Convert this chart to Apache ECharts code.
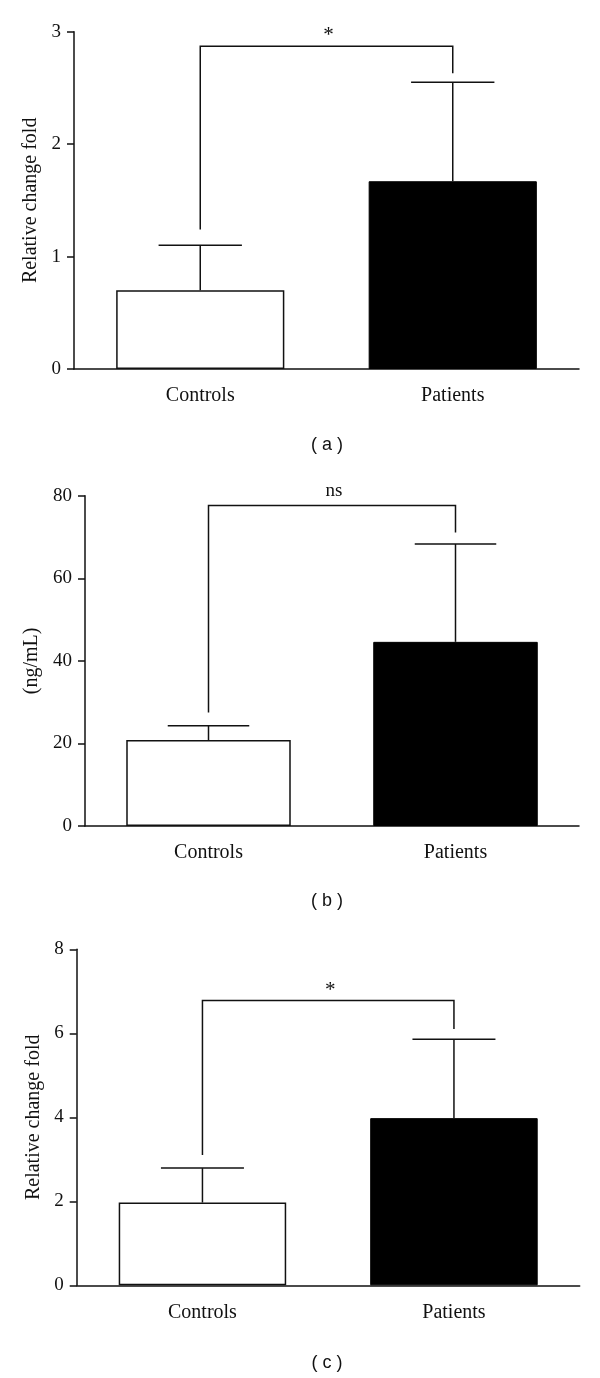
<!DOCTYPE html>
<html>
<head>
<meta charset="utf-8">
<script src="https://cdn.jsdelivr.net/npm/echarts@6/dist/echarts.min.js"></script>
<style>
  html, body { margin: 0; padding: 0; background: #fff; }
  #chart { width: 600px; height: 1378px; }
</style>
</head>
<body>
<div id="chart"></div>
<script>
const categories = ['Controls', 'Patients']

// panel (a)
const meanA = [0.7, 1.67]
const errTopA = [1.1, 2.55]
const bracketA = [1.24, 2.63, 2.87] // left foot, right foot, top
const ticksA = [0, 3, 1]            // min, max, interval

// panel (b)
const meanB = [20.8, 44.6]
const errTopB = [24.3, 68.3]
const bracketB = [27.5, 71.1, 77.6]
const ticksB = [0, 80, 20]

// panel (c)
const meanC = [1.97, 3.98]
const errTopC = [2.79, 5.86]
const bracketC = [3.1, 6.1, 6.78]
const ticksC = [0, 8, 2]

const panelTitles = ['Relative change fold', '(ng/mL)', 'Relative change fold']
const sigLabels = ['*', 'ns', '*']
const panelLetters = ['( a )', '( b )', '( c )']

const INK = '#111'
const SERIF = '"Liberation Serif", "DejaVu Serif", serif'

const layouts = [
  { grid: { left: 74, top: 31.7, width: 505, height: 337.3 }, nameGap: 27, letterY: 445 },
  { grid: { left: 85, top: 495.7, width: 494, height: 330.3 }, nameGap: 40, letterY: 901 },
  { grid: { left: 76.7, top: 949.3, width: 503, height: 336 }, nameGap: 29, letterY: 1363 }
]

const panels = [
  { mean: meanA, errTop: errTopA, bracket: bracketA, ticks: ticksA },
  { mean: meanB, errTop: errTopB, bracket: bracketB, ticks: ticksB },
  { mean: meanC, errTop: errTopC, bracket: bracketC, ticks: ticksC }
]

const renderErrorBar = (params, api) => {
  const x = api.value(0)
  const base = api.coord([x, api.value(1)])
  const top = api.coord([x, api.value(2)])
  const capHalf = api.size([1, 0])[0] * 0.165
  return {
    type: 'group',
    children: [
      { type: 'line', shape: { x1: base[0], y1: base[1], x2: top[0], y2: top[1] }, style: { stroke: INK, lineWidth: 1.5 } },
      { type: 'line', shape: { x1: top[0] - capHalf, y1: top[1], x2: top[0] + capHalf, y2: top[1] }, style: { stroke: INK, lineWidth: 1.5 } }
    ]
  }
}

const makeBracketRenderer = (label) => (params, api) => {
  const leftFoot = api.coord([0, api.value(0)])
  const rightFoot = api.coord([1, api.value(1)])
  const topY = api.coord([0, api.value(2)])[1]
  const isStar = label === '*'
  return {
    type: 'group',
    children: [
      {
        type: 'polyline',
        shape: { points: [[leftFoot[0], leftFoot[1]], [leftFoot[0], topY], [rightFoot[0], topY], [rightFoot[0], rightFoot[1]]] },
        style: { stroke: INK, lineWidth: 1.5, fill: null }
      },
      {
        type: 'text',
        x: (leftFoot[0] + rightFoot[0]) / 2 + 2,
        y: topY - (isStar ? 0 : 5),
        style: { text: label, fill: INK, font: (isStar ? '21px ' : '19px ') + SERIF, align: 'center', verticalAlign: 'bottom' }
      }
    ]
  }
}

const grid = []
const xAxis = []
const yAxis = []
const series = []
const graphic = []

panels.forEach((p, i) => {
  const lay = layouts[i]
  grid.push(lay.grid)
  xAxis.push({
    type: 'category',
    gridIndex: i,
    data: categories,
    axisLine: { lineStyle: { color: INK, width: 1.5 } },
    axisTick: { alignWithLabel: true, length: 8, lineStyle: { color: INK, width: 1.5 } },
    axisLabel: { color: INK, fontFamily: SERIF, fontSize: 20, margin: 17 }
  })
  yAxis.push({
    type: 'value',
    gridIndex: i,
    min: p.ticks[0],
    max: p.ticks[1],
    interval: p.ticks[2],
    name: panelTitles[i],
    nameLocation: 'middle',
    nameGap: lay.nameGap,
    nameTextStyle: { color: INK, fontFamily: SERIF, fontSize: 20 },
    axisLine: { show: true, lineStyle: { color: INK, width: 1.5 } },
    axisTick: { show: true, length: 7, lineStyle: { color: INK, width: 1.5 } },
    axisLabel: { color: INK, fontFamily: SERIF, fontSize: 19, margin: 13 },
    splitLine: { show: false }
  })
  series.push({
    type: 'bar',
    xAxisIndex: i,
    yAxisIndex: i,
    barWidth: '66.6%',
    silent: true,
    data: p.mean.map((v, k) => ({
      value: v,
      itemStyle: k === 0
        ? { color: '#fff', borderColor: INK, borderWidth: 1.5 }
        : { color: '#000', borderColor: '#000', borderWidth: 1 }
    }))
  })
  series.push({
    type: 'custom',
    xAxisIndex: i,
    yAxisIndex: i,
    silent: true,
    z: 3,
    renderItem: renderErrorBar,
    data: p.mean.map((v, k) => [k, v, p.errTop[k]])
  })
  series.push({
    type: 'custom',
    xAxisIndex: i,
    yAxisIndex: i,
    silent: true,
    z: 3,
    renderItem: makeBracketRenderer(sigLabels[i]),
    data: [p.bracket]
  })
  graphic.push({
    type: 'text',
    x: 327,
    y: lay.letterY,
    style: {
      text: panelLetters[i],
      fill: INK,
      font: '18px "Liberation Sans", Arial, sans-serif',
      align: 'center',
      verticalAlign: 'middle'
    }
  })
})

const chart = echarts.init(document.getElementById('chart'), null, { renderer: 'canvas' })
chart.setOption({
  animation: false,
  backgroundColor: '#fff',
  grid,
  xAxis,
  yAxis,
  series,
  graphic
})
</script>
</body>
</html>
